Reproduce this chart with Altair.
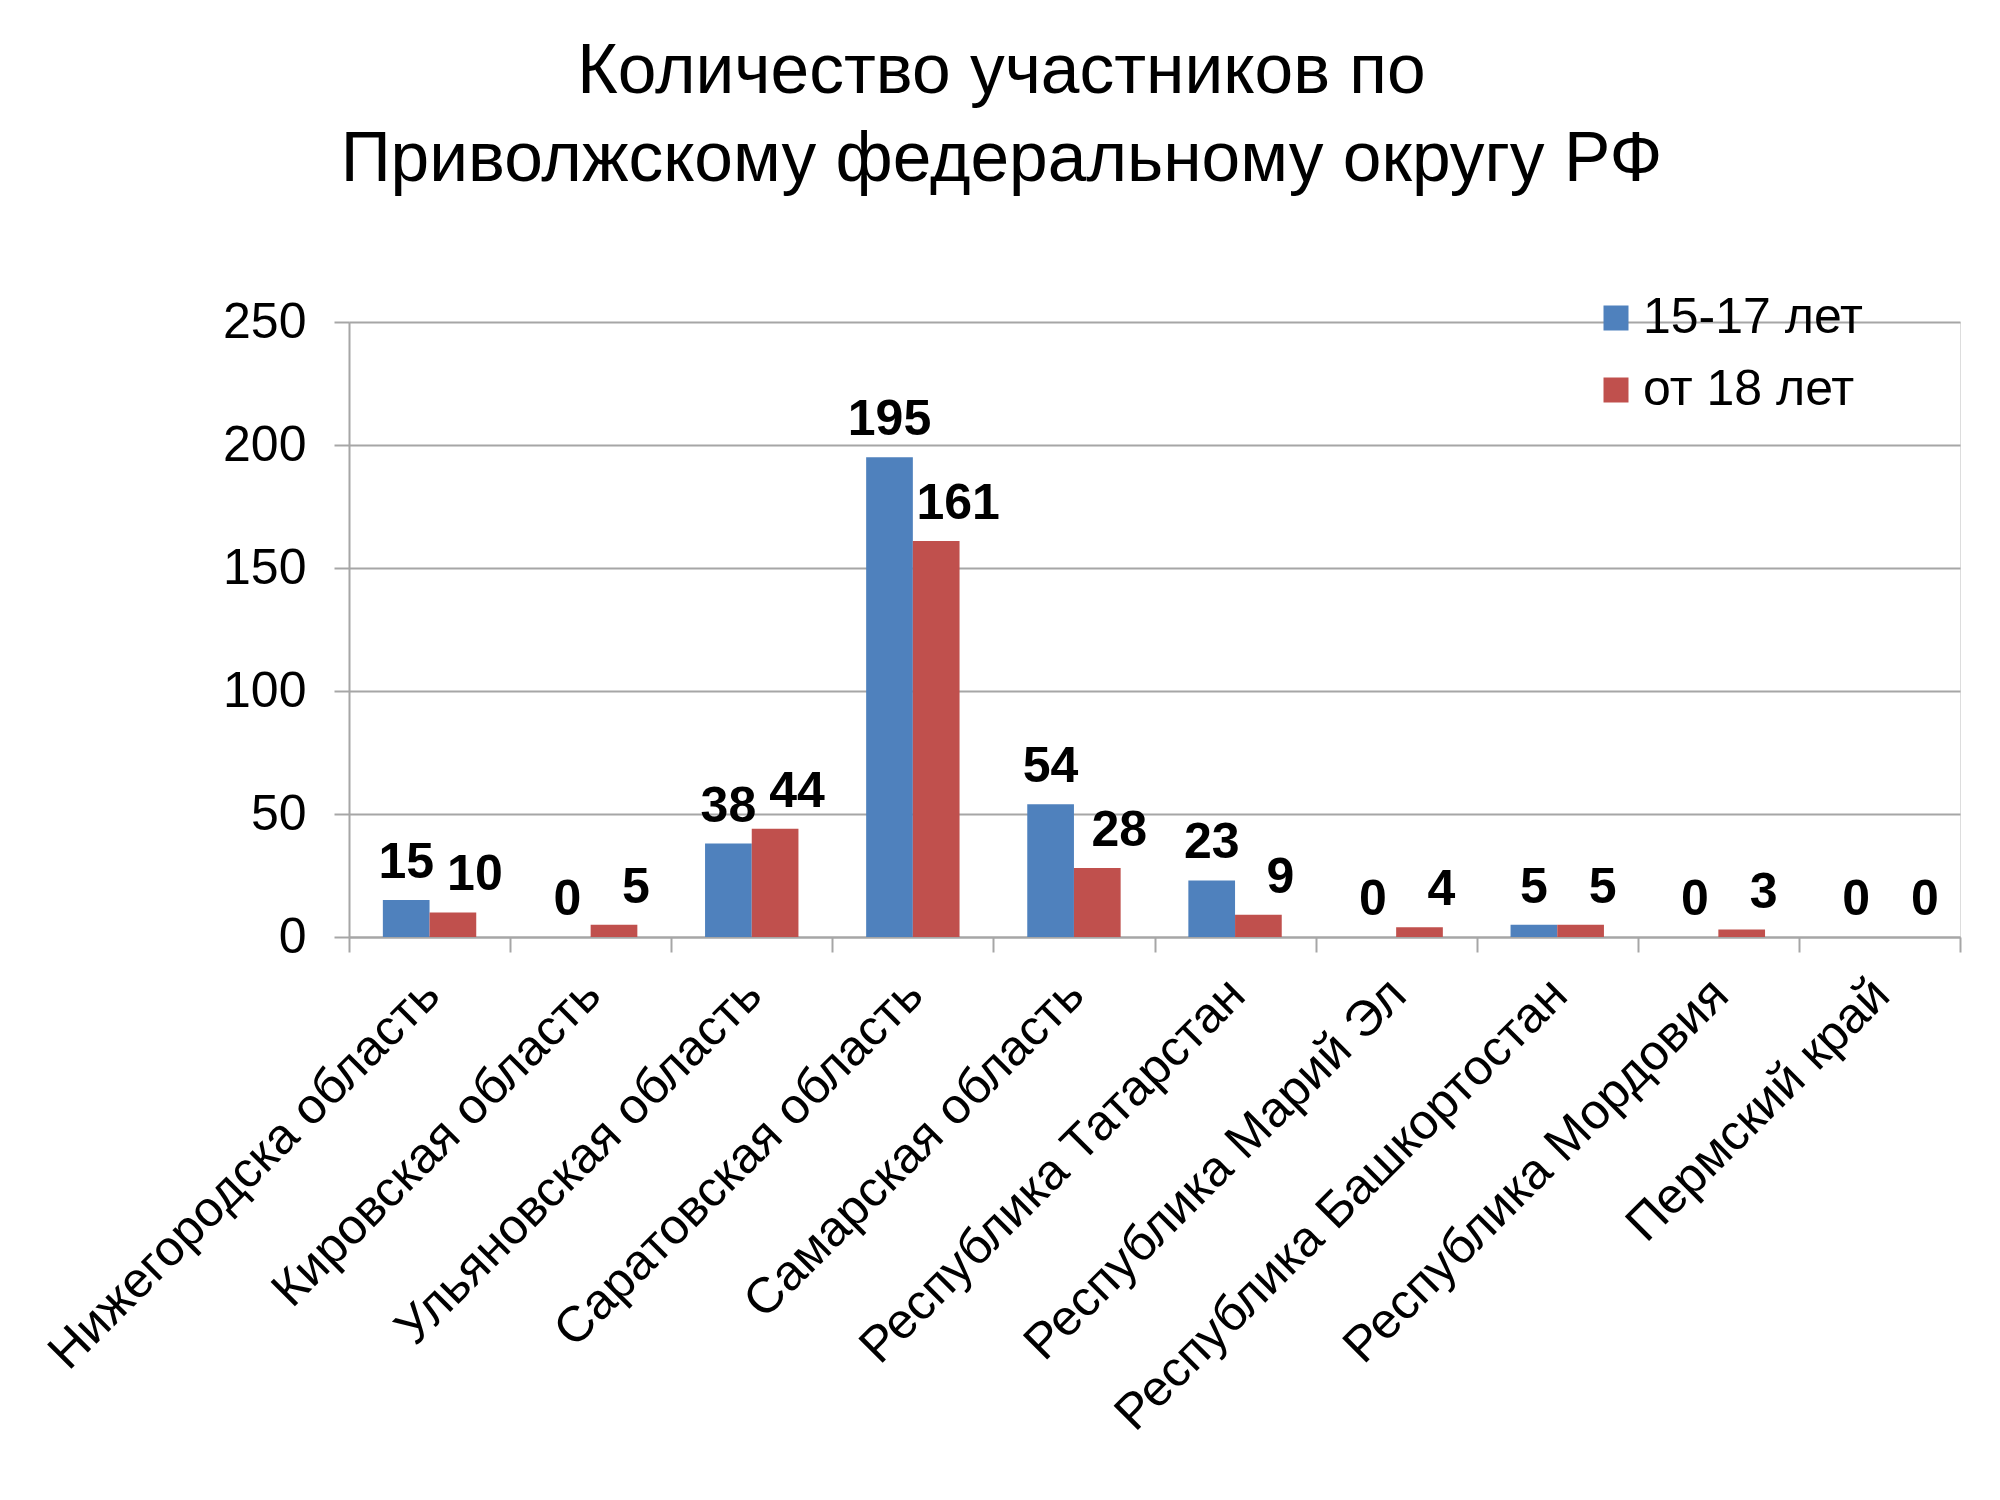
import altair as alt
import pandas as pd

regions = [
    "Нижегородска область",
    "Кировская область",
    "Ульяновская область",
    "Саратовская область",
    "Самарская область",
    "Республика Татарстан",
    "Республика Марий Эл",
    "Республика Башкортостан",
    "Республика Мордовия",
    "Пермский край",
]
series_names = ["15-17 лет", "от 18 лет"]
values_15_17 = [15, 0, 38, 195, 54, 23, 0, 5, 0, 0]
values_18 = [10, 5, 44, 161, 28, 9, 4, 5, 3, 0]
colors = ["#4F81BD", "#C0504D"]
title_lines = ["Количество участников по", "Приволжскому федеральному округу РФ"]

rows = []
for r, a, b in zip(regions, values_15_17, values_18):
    rows.append({"region": r, "series": series_names[0], "value": a})
    rows.append({"region": r, "series": series_names[1], "value": b})
df = pd.DataFrame(rows)

FONT = "Liberation Sans"
GRID = "#A6A6A6"

x_enc = alt.X(
    "region:N",
    sort=regions,
    title=None,
    scale=alt.Scale(paddingInner=0, paddingOuter=0),
    axis=alt.Axis(
        labelAngle=-45,
        labelAlign="right",
        labelBaseline="top",
        labelFontSize=50,
        labelFont=FONT,
        labelColor="black",
        labelPadding=17,
        labelOffset=-16,
        labelLimit=1000,
        tickBand="extent",
        tickSize=15,
        tickColor=GRID,
        tickWidth=2,
        domainColor=GRID,
        domainWidth=2,
        grid=False,
    ),
)
xoff = alt.XOffset(
    "series:N",
    sort=series_names,
    scale=alt.Scale(domain=series_names, paddingInner=0, paddingOuter=0.725),
)
y_enc = alt.Y(
    "value:Q",
    title=None,
    scale=alt.Scale(domain=[0, 250], nice=False),
    axis=alt.Axis(
        values=[0, 50, 100, 150, 200, 250],
        labelFontSize=50,
        labelFont=FONT,
        labelColor="black",
        labelPadding=28,
        tickSize=15,
        tickColor=GRID,
        tickWidth=2,
        domainColor=GRID,
        domainWidth=2,
        gridColor=GRID,
        gridWidth=2,
    ),
)

bars = alt.Chart(df).mark_bar(stroke=None).encode(
    x=x_enc,
    xOffset=xoff,
    y=y_enc,
    color=alt.Color(
        "series:N",
        sort=series_names,
        scale=alt.Scale(domain=series_names, range=colors),
        legend=alt.Legend(
            title=None,
            orient="none",
            legendX=1242,
            legendY=-29,
            symbolType="square",
            symbolSize=625,
            symbolStrokeWidth=0,
            labelFontSize=50,
            labelFont=FONT,
            labelColor="black",
            labelOffset=2,
            rowPadding=22,
            padding=0,
            labelLimit=500,
        ),
    ),
)

labels_a = alt.Chart(df).transform_filter(
    alt.datum.series == series_names[0]
).mark_text(
    font=FONT, fontSize=50, fontWeight="bold", color="black",
    baseline="alphabetic", dy=-22,
).encode(x=alt.X("region:N", sort=regions), xOffset=xoff, y="value:Q", text="value:Q")

labels_b = alt.Chart(df).transform_filter(
    alt.datum.series == series_names[1]
).mark_text(
    font=FONT, fontSize=50, fontWeight="bold", color="black",
    baseline="alphabetic", dy=-22, dx=22,
).encode(x=alt.X("region:N", sort=regions), xOffset=xoff, y="value:Q", text="value:Q")

chart = alt.layer(bars, labels_a, labels_b).properties(
    width=1611,
    height=615,
    title=alt.TitleParams(
        text=title_lines,
        font=FONT,
        fontSize=69.5,
        fontWeight="normal",
        color="black",
        lineHeight=88,
        anchor="middle",
        frame="group",
        dx=-153,
        offset=98,
    ),
    autosize=alt.AutoSizeParams(type="none"),
    padding={"left": 341, "top": 314, "right": 30, "bottom": 550},
).configure_view(stroke=None).configure(background="white")

chart.save("out.html", embed_options={"renderer": "svg", "actions": False})
